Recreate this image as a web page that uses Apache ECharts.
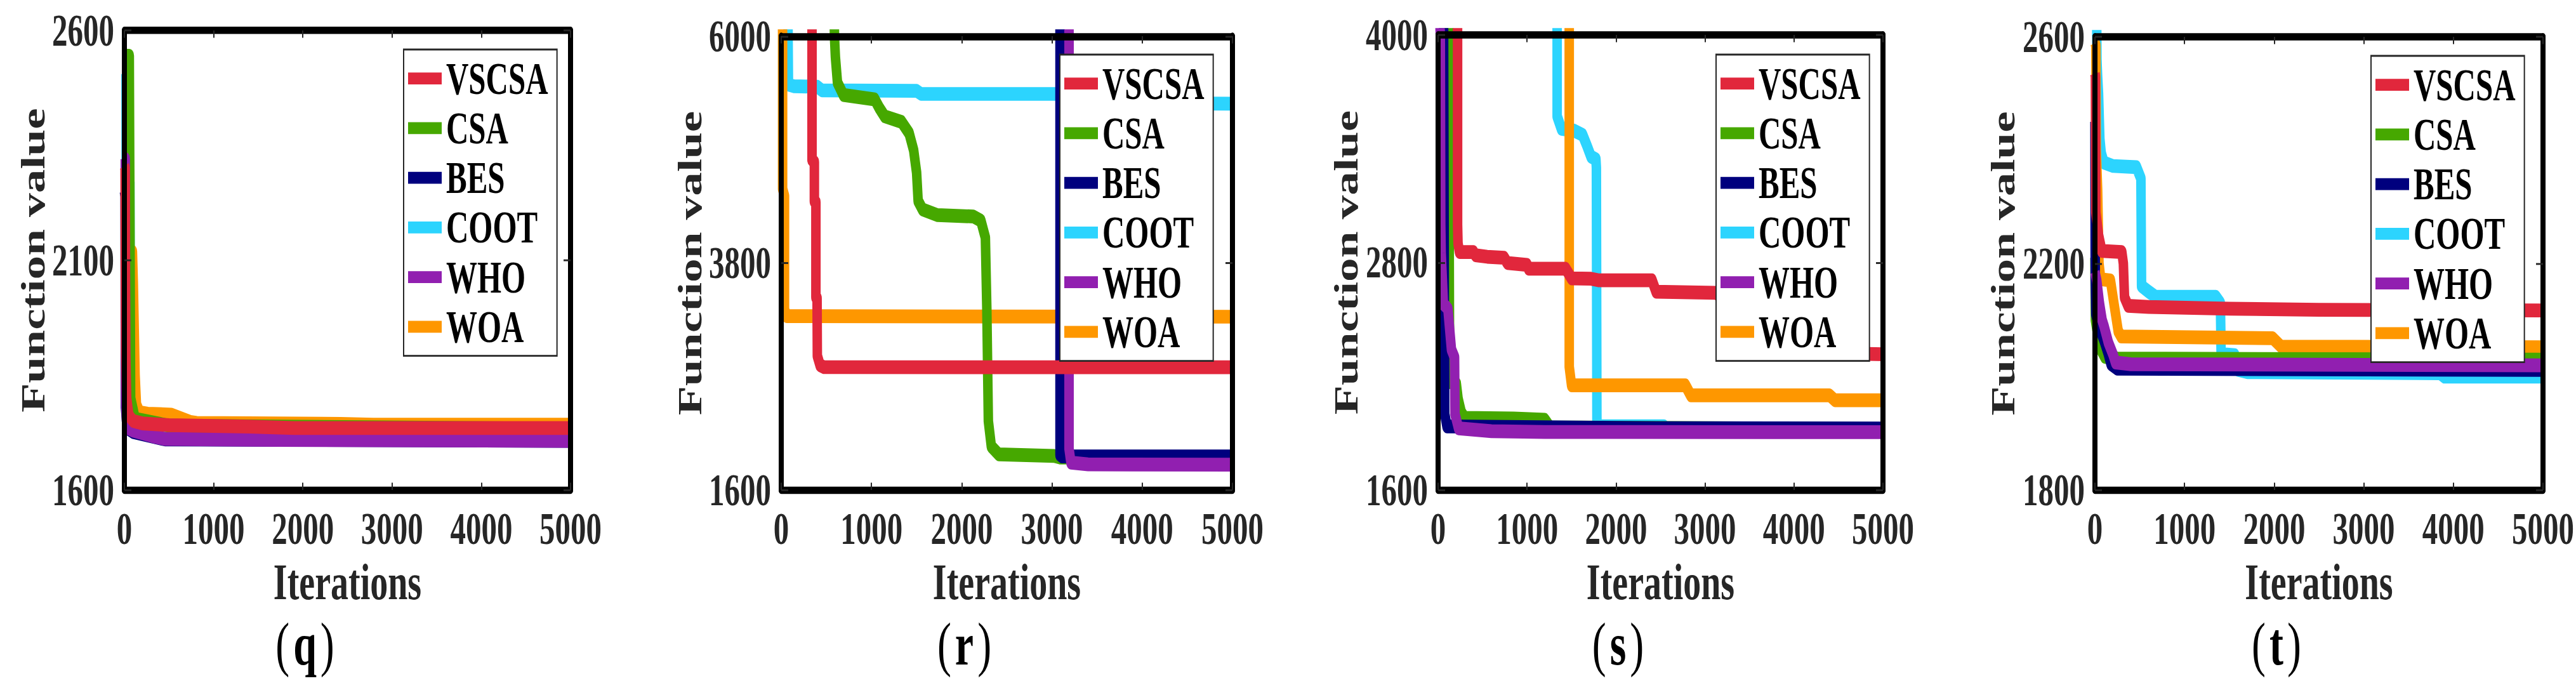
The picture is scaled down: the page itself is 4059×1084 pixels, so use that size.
<!DOCTYPE html>
<html><head><meta charset="utf-8">
<script src="https://cdn.jsdelivr.net/npm/echarts@6/dist/echarts.min.js"></script>
<style>
html,body{margin:0;padding:0;background:#fff;overflow:hidden;}
#wrap{width:4059px;height:1084px;overflow:hidden;background:#fff;}
#chart{width:4059px;height:748px;transform:scaleY(1.449198);transform-origin:0 0;}
</style></head><body><div id="wrap"><div id="chart"></div></div>
<script>
// ---------------- data ----------------
const legendNames = ['VSCSA', 'CSA', 'BES', 'COOT', 'WHO', 'WOA'];
const panelLabels = ['q', 'r', 's', 't'];
const xTicks = [0, 1000, 2000, 3000, 4000, 5000];
const yTicks_q = [1600, 2100, 2600];
const yTicks_r = [1600, 3800, 6000];
const yTicks_s = [1600, 2800, 4000];
const yTicks_t = [1800, 2200, 2600];

// panel (q)
const q_VSCSA = [[0,2305],[8,2300],[10,2100],[15,1900],[25,1800],[50,1762],[100,1750],[200,1745],[500,1741],[1400,1738],[1900,1735],[5000,1735]];
const q_CSA   = [[0,2545],[55,2545],[60,2300],[70,1800],[120,1755],[500,1740],[5000,1733]];
const q_BES   = [[0,2250],[8,2240],[12,1780],[30,1735],[100,1726],[455,1710],[5000,1707]];
const q_COOT  = [[0,2505],[18,2505],[20,2272],[62,2270],[66,1800],[100,1754],[400,1740],[1400,1737],[5000,1733]];
const q_WHO   = [[0,2322],[10,2320],[14,1790],[28,1736],[100,1729],[194,1724],[336,1716],[455,1711],[1712,1709],[5000,1707]];
const q_WOA   = [[0,2119],[90,2119],[100,2050],[110,1950],[120,1850],[135,1786],[171,1769],[263,1766],[526,1764],[740,1748],[811,1746],[2423,1744],[2788,1742],[5000,1742]];

// panel (r)
const r_VSCSA = [[0,6800],[338,6800],[341,6000],[341,4800],[367,4780],[367,4400],[384,4390],[384,3470],[397,3460],[400,2900],[430,2810],[473,2791],[5000,2790]];
const r_CSA   = [[0,6300],[585,6300],[590,5990],[600,5800],[623,5550],[689,5430],[1036,5387],[1086,5305],[1146,5223],[1334,5168],[1417,5059],[1467,4895],[1500,4676],[1517,4402],[1566,4320],[1732,4265],[2129,4252],[2212,4211],[2262,4047],[2278,3362],[2295,2268],[2328,2022],[2411,1945],[3023,1930],[3089,1915],[5000,1912]];
const r_BES   = [[0,6800],[3086,6800],[3089,6000],[3089,1940],[3110,1926],[5000,1926]];
const r_COOT  = [[0,6600],[72,6600],[76,6000],[80,5530],[140,5515],[400,5510],[450,5475],[1500,5470],[1550,5440],[3300,5440],[3600,5350],[5000,5346]];
const r_WHO   = [[0,6800],[3186,6800],[3189,6000],[3189,2000],[3210,1865],[3400,1848],[5000,1845]];
const r_WOA   = [[0,6800],[11,6800],[15,6000],[15,4520],[36,4450],[36,3350],[60,3285],[5000,3280]];

// panel (s)
const s_VSCSA = [[0,4500],[215,4500],[219,4000],[219,3000],[224,2900],[240,2855],[398,2855],[420,2838],[552,2830],[743,2825],[779,2797],[1000,2787],[1017,2767],[1433,2767],[1500,2716],[1719,2714],[1800,2706],[2404,2706],[2450,2646],[3120,2640],[3500,2500],[4050,2325],[5000,2316]];
const s_CSA   = [[0,4500],[115,4500],[120,4000],[125,2900],[130,2170],[205,2160],[225,2080],[260,2010],[300,1980],[850,1977],[1200,1970],[1260,1930],[5000,1922]];
const s_BES   = [[0,4500],[58,4500],[62,4000],[70,2600],[75,2000],[100,1935],[2500,1926],[5000,1924]];
const s_COOT  = [[0,4500],[1334,4500],[1338,4000],[1338,3570],[1386,3505],[1529,3495],[1624,3473],[1671,3418],[1719,3358],[1774,3344],[1779,3300],[1785,1945],[1810,1936],[2539,1936],[2560,1918],[5000,1915]];
const s_WHO   = [[0,4300],[25,4000],[30,3000],[35,2850],[60,2580],[110,2556],[150,2340],[185,2300],[190,2000],[230,1925],[600,1910],[1200,1906],[5000,1905]];
const s_WOA   = [[0,4500],[1470,4500],[1474,4000],[1474,2250],[1500,2152],[2780,2152],[2840,2099],[4400,2099],[4460,2073],[5000,2073]];

// panel (t)
const t_VSCSA = [[0,2535],[5,2530],[10,2290],[40,2250],[77,2222],[300,2220],[317,2200],[330,2140],[370,2125],[600,2123],[1500,2120],[2500,2118],[5000,2117]];
const t_CSA   = [[0,2210],[5,2100],[20,2085],[60,2050],[110,2035],[250,2032],[5000,2030]];
const t_BES   = [[0,2450],[3,2180],[10,2110],[40,2090],[100,2065],[150,2040],[180,2022],[250,2014],[5000,2012]];
const t_COOT  = [[0,2640],[20,2620],[22,2560],[30,2530],[40,2500],[55,2420],[70,2395],[100,2378],[200,2372],[463,2370],[513,2350],[520,2160],[600,2150],[680,2141],[1350,2141],[1400,2130],[1408,2040],[1560,2038],[1600,2012],[1700,2008],[3850,2006],[3900,2000],[5000,2000]];
const t_WHO   = [[0,2185],[20,2170],[50,2130],[80,2100],[100,2090],[150,2060],[200,2040],[230,2025],[400,2022],[5000,2020]];
const t_WOA   = [[0,2590],[10,2585],[15,2400],[30,2330],[45,2200],[65,2172],[173,2170],[221,2120],[260,2080],[293,2071],[1983,2068],[2079,2053],[5000,2052]];

// ---------------- styling / layout ----------------
const colors = {VSCSA:'#E1273C', CSA:'#46A800', BES:'#00007E', COOT:'#2CD4FE', WHO:'#911FB0', WOA:'#FE9700'};
const drawOrder = ['COOT', 'WOA', 'CSA', 'BES', 'WHO', 'VSCSA'];
const FONT = "'Liberation Serif', 'Times New Roman', serif";
const K = 1084 / 748;

const panels = [
  {yTicks: yTicks_q, data: {VSCSA:q_VSCSA, CSA:q_CSA, BES:q_BES, COOT:q_COOT, WHO:q_WHO, WOA:q_WOA}},
  {yTicks: yTicks_r, data: {VSCSA:r_VSCSA, CSA:r_CSA, BES:r_BES, COOT:r_COOT, WHO:r_WHO, WOA:r_WOA}},
  {yTicks: yTicks_s, data: {VSCSA:s_VSCSA, CSA:s_CSA, BES:s_BES, COOT:s_COOT, WHO:s_WHO, WOA:s_WOA}},
  {yTicks: yTicks_t, data: {VSCSA:t_VSCSA, CSA:t_CSA, BES:t_BES, COOT:t_COOT, WHO:t_WHO, WOA:t_WOA}}
];
// layout in original pixel units (y converted by K)
const layout = [
  {l:196,  r:899,  t:48, b:772, legL:636,  legT:78, nameGap:114},
  {l:1231, r:1942, t:57, b:772, legL:1670, legT:86, nameGap:118},
  {l:2266, r:2967, t:55, b:772, legL:2704, legT:86, nameGap:119},
  {l:3301, r:4007, t:58, b:772, legL:3736, legT:88, nameGap:119}
];
const PANEL_LABEL_Y = 1015;

const grid = [], xAxis = [], yAxis = [], series = [], legend = [], graphic = [];
const labelStyle = {fontSize:49, fontWeight:'bold', fontFamily:FONT, color:'#262626', formatter: v => String(v)};

panels.forEach((p, i) => {
  const L = layout[i];
  grid.push({left:L.l, top:L.t / K, width:L.r - L.l, height:(L.b - L.t) / K, show:false});
  const yMin = p.yTicks[0], yMax = p.yTicks[p.yTicks.length - 1];
  const frame = {show:true, onZero:false, lineStyle:{color:'#000', width:8}};
  xAxis.push({
    gridIndex:i, type:'value', min:xTicks[0], max:xTicks[xTicks.length-1], interval:1000, position:'bottom', z:5,
    axisLine:frame, axisTick:{show:true, inside:true, length:8, lineStyle:{color:'#262626', width:2}},
    axisLabel:Object.assign({show:true, margin:18}, labelStyle), splitLine:{show:false},
    name:'Iterations', nameLocation:'middle', nameGap:72,
    nameTextStyle:{fontSize:56, fontWeight:'bold', fontFamily:FONT, color:'#262626', lineHeight:50}
  });
  xAxis.push({
    gridIndex:i, type:'value', min:xTicks[0], max:xTicks[xTicks.length-1], interval:1000, position:'top', z:5,
    axisLine:frame, axisTick:{show:true, inside:true, length:8, lineStyle:{color:'#262626', width:2}},
    axisLabel:{show:false}, splitLine:{show:false}
  });
  yAxis.push({
    gridIndex:i, type:'value', min:yMin, max:yMax, position:'left', z:5,
    axisLine:frame,
    axisTick:{show:true, inside:true, length:11, customValues:p.yTicks, lineStyle:{color:'#262626', width:2}},
    axisLabel:Object.assign({show:true, margin:16, customValues:p.yTicks}, labelStyle),
    splitLine:{show:false},
    name:'Function value', nameLocation:'middle', nameGap:L.nameGap, nameRotate:90,
    nameTextStyle:{fontSize:52, fontWeight:'bold', fontFamily:FONT, color:'#262626'}
  });
  yAxis.push({
    gridIndex:i, type:'value', min:yMin, max:yMax, position:'right', z:5,
    axisLine:frame,
    axisTick:{show:true, inside:true, length:11, customValues:p.yTicks, lineStyle:{color:'#262626', width:2}},
    axisLabel:{show:false}, splitLine:{show:false}
  });
  drawOrder.forEach(name => {
    series.push({
      name, type:'line', xAxisIndex:2*i, yAxisIndex:2*i, data:p.data[name],
      showSymbol:false, symbol:'none', clip:true, silent:true, animation:false, z:2,
      color:colors[name],
      lineStyle:{width:15, color:colors[name], join:'round', cap:'butt'}
    });
  });
  legend.push({
    data:legendNames, orient:'vertical', left:L.legL, top:L.legT / K, z:10,
    icon:'rect', itemWidth:53, itemHeight:13, itemGap:5,
    padding:[7, 14, 7, 7], backgroundColor:'#fff', borderColor:'#262626', borderWidth:2,
    selectedMode:false,
    textStyle:{fontSize:49, fontWeight:'bold', fontFamily:FONT, color:'#000', padding:[0,0,0,2]}
  });
  graphic.push({
    type:'text', x:(L.l + L.r) / 2 - 67, y:PANEL_LABEL_Y / K, z:10,
    style:{
      text:'{p|(}{b|' + panelLabels[i] + '}{p|)}',
      align:'center', verticalAlign:'middle',
      rich:{
        p:{fontSize:66, lineHeight:50, fontWeight:'normal', fontFamily:FONT, fill:'#000'},
        b:{fontSize:66, lineHeight:50, fontWeight:'bold', fontFamily:FONT, fill:'#000', padding:[0,6,0,6]}
      }
    }
  });
});

const chart = echarts.init(document.getElementById('chart'), null, {renderer:'svg'});
chart.setOption({animation:false, backgroundColor:'#fff', grid, xAxis, yAxis, series, legend, graphic});
</script></body></html>
